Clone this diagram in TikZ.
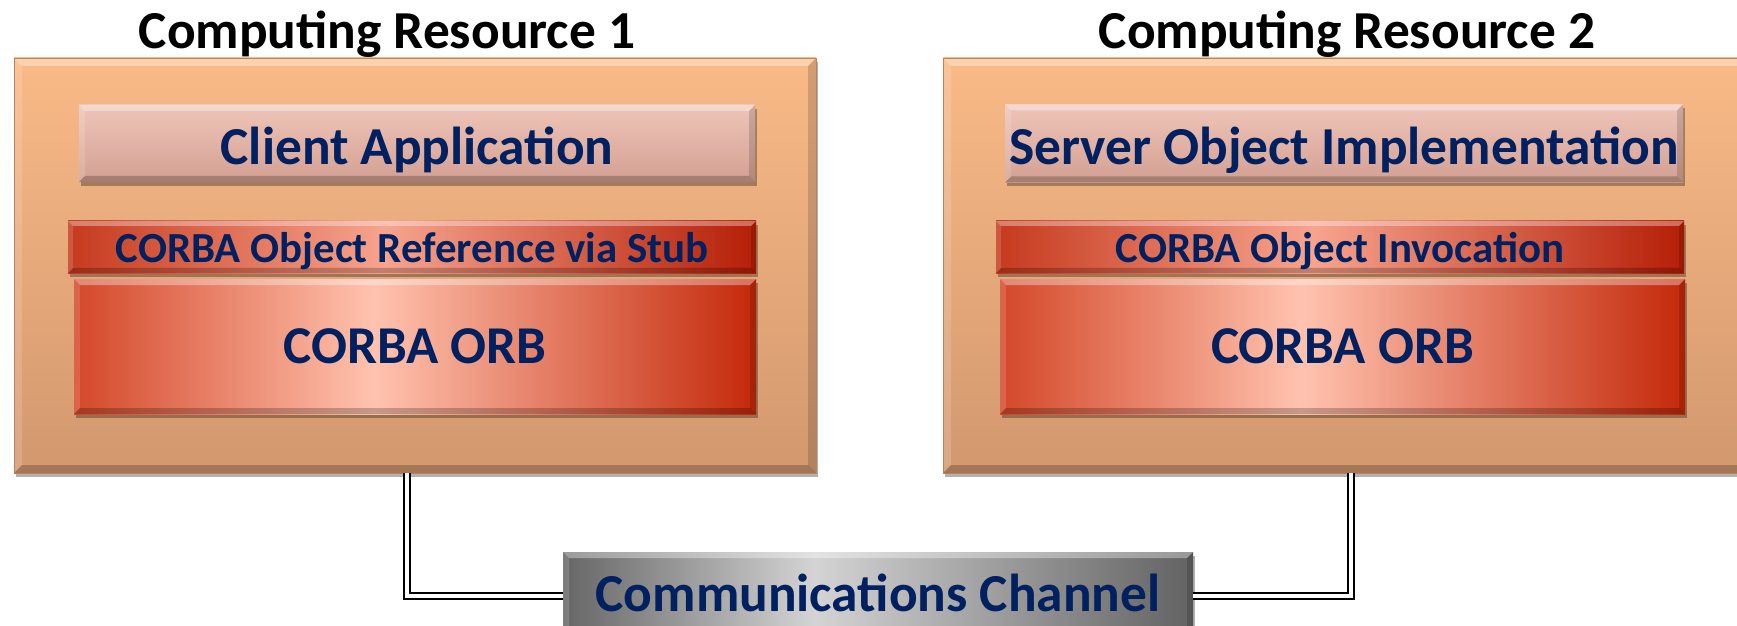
\documentclass[tikz,border=0pt]{standalone}
\usepackage{fontspec}
\setmainfont{Carlito}
\usetikzlibrary{shadows}
\definecolor{navy}{HTML}{002060}
\definecolor{rA}{HTML}{D4482A}
\definecolor{rB}{HTML}{FFC3AF}
\definecolor{rC}{HTML}{C4290A}
\definecolor{sA}{HTML}{C63A1E}
\definecolor{sB}{HTML}{F7A48E}
\definecolor{sC}{HTML}{B51E06}
\definecolor{gA}{HTML}{666666}
\definecolor{gB}{HTML}{D4D4D4}
\definecolor{gC}{HTML}{626262}
\definecolor{oTop}{HTML}{F9BA87}
\definecolor{oBot}{HTML}{D2986E}
\definecolor{oLine}{HTML}{BE825A}
\definecolor{aTop}{HTML}{EFC5B9}
\definecolor{aBot}{HTML}{D3A092}
\pgfdeclarehorizontalshading{orbshade}{100bp}{color(0bp)=(rA); color(25bp)=(rA); color(47bp)=(rB); color(75bp)=(rC); color(100bp)=(rC)}
\pgfdeclarehorizontalshading{stubshade}{100bp}{color(0bp)=(sA); color(25bp)=(sA); color(48bp)=(sB); color(75bp)=(sC); color(100bp)=(sC)}
\pgfdeclarehorizontalshading{grayshade}{100bp}{color(0bp)=(gA); color(25bp)=(gA); color(45bp)=(gB); color(75bp)=(gC); color(100bp)=(gC)}
\tikzset{
  bevel/.style={path picture={
    \coordinate (bnw) at (path picture bounding box.north west);
    \coordinate (bne) at (path picture bounding box.north east);
    \coordinate (bsw) at (path picture bounding box.south west);
    \coordinate (bse) at (path picture bounding box.south east);
    \fill[white,opacity=0.35] (bnw) -- (bne) -- ([shift={(-#1pt,-#1pt)}]bne) -- ([shift={(#1pt,-#1pt)}]bnw) -- cycle;
    \fill[white,opacity=0.15] (bnw) -- ([shift={(#1pt,-#1pt)}]bnw) -- ([shift={(#1pt,#1pt)}]bsw) -- (bsw) -- cycle;
    \fill[black,opacity=0.15] (bne) -- (bse) -- ([shift={(-#1pt,#1pt)}]bse) -- ([shift={(-#1pt,-#1pt)}]bne) -- cycle;
    \fill[black,opacity=0.22] (bsw) -- (bse) -- ([shift={(-#1pt,#1pt)}]bse) -- ([shift={(#1pt,#1pt)}]bsw) -- cycle;
  }},
  shadowed/.style={drop shadow={shadow xshift=1.2pt, shadow yshift=-2pt, opacity=0.3, fill=black}},
  outerbox/.style={rectangle, inner sep=0pt, shadowed, bevel=4,
    top color=oTop, bottom color=oBot, draw=oLine, line width=0.4pt},
  appbox/.style={rectangle, inner sep=0pt, shadowed, bevel=3,
    top color=aTop, bottom color=aBot,
    text=navy, font=\fontsize{26.7}{31}\selectfont\bfseries, text depth=0pt},
  stubbox/.style={rectangle, inner sep=0pt, shadowed, bevel=2.5, shading=stubshade,
    text=navy, font=\fontsize{21.45}{25}\selectfont\bfseries, text height=16pt, text depth=0pt},
  orbbox/.style={rectangle, inner sep=0pt, shadowed, bevel=3, shading=orbshade,
    text=navy, font=\fontsize{26.6}{31}\selectfont\bfseries, text height=17.5pt, text depth=0pt},
  chanbox/.style={rectangle, inner sep=0pt, shadowed, bevel=3, shading=grayshade,
    text=navy, font=\fontsize{26.7}{31}\selectfont\bfseries, text height=15pt, text depth=0pt},
  titletext/.style={anchor=base, inner sep=0pt, text=black, font=\fontsize{26.7}{31}\selectfont\bfseries},
  dbl/.style={draw=black, double=white, double distance=2pt, line width=0.8pt}
}
\begin{document}
\begin{tikzpicture}[x=0.5pt,y=-0.5pt]
\useasboundingbox (0,0) rectangle (1737,626);
\clip (0,0) rectangle (1737,626);
\fill[white] (0,0) rectangle (1737,626);

% resource boxes
\node[outerbox, minimum width=401pt, minimum height=207.5pt] (cr1) at (415,265.5) {};
\node[outerbox, minimum width=401pt, minimum height=207.5pt] (cr2) at (1344,265.5) {};

% titles
\node[titletext] (t1) at (387,48.5) {Computing Resource 1};
\node[titletext] (t2) at (1347,48.5) {Computing Resource 2};

% inner layers, resource 1
\node[appbox, text height=21.5pt, minimum width=338pt, minimum height=38.5pt] (client) at (417,143.5) {Client Application};
\node[stubbox, minimum width=344pt, minimum height=26pt] (stub) at (412,247) {CORBA Object Reference via Stub};
\node[orbbox, minimum width=341pt, minimum height=67.5pt] (orb1) at (415,346.5) {CORBA ORB};

% inner layers, resource 2
\node[appbox, text height=21.5pt, minimum width=339pt, minimum height=39pt] (server) at (1344,143.5) {Server Object Implementation};
\node[stubbox, minimum width=344pt, minimum height=26pt] (invoc) at (1340,247) {CORBA Object Invocation};
\node[orbbox, minimum width=342.5pt, minimum height=67.5pt] (orb2) at (1342.5,346.5) {CORBA ORB};

% channel
\node[chanbox, minimum width=315pt, minimum height=44pt] (comm) at (878,596) {Communications Channel};

% connectors
\draw[dbl] ([xshift=-4pt]cr1.south) |- (comm.west);
\draw[dbl] ([xshift=3.5pt]cr2.south) |- (comm.east);
\end{tikzpicture}
\end{document}
